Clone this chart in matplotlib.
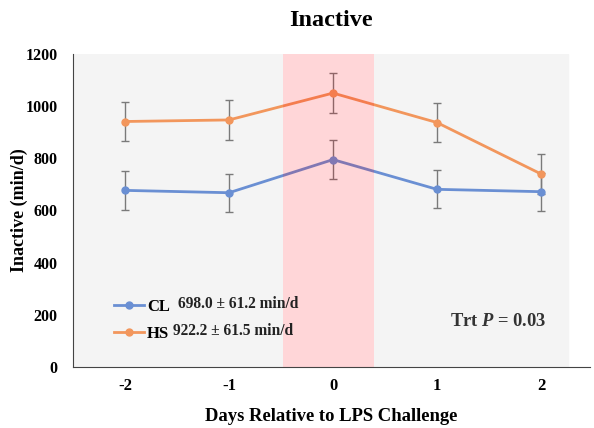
import numpy as np
import matplotlib.pyplot as plt
from matplotlib.patches import Rectangle
from matplotlib.lines import Line2D

plt.rcParams['font.family'] = ['Liberation Serif', 'DejaVu Serif']
plt.rcParams['font.weight'] = 'bold'
plt.rcParams['axes.unicode_minus'] = False
plt.rcParams['mathtext.fontset'] = 'custom'
plt.rcParams['mathtext.it'] = 'Liberation Serif:italic:bold'

days = [-2, -1, 0, 1, 2]
cl = [677, 668, 795, 681, 672]
hs = [941, 947, 1050, 937, 740]
cl_err = [75, 73, 75, 73, 73]
hs_err = [75, 78, 75, 75, 75]

blue = '#6a8fd3'
orange = '#f2965c'

fig = plt.figure(figsize=(5.94, 4.28), dpi=100)
ax = fig.add_axes([0.123, 0.1425, 0.87, 0.7315])

ax.set_xlim(-2.5, 2.47)
ax.set_ylim(0, 1200)

# gray plot area, white under the LPS band
ax.add_patch(Rectangle((-2.5, 0), 4.76, 1200, color='#f4f4f4', zorder=0))
ax.axvspan(-0.48, 0.39, color='white', lw=0, zorder=0.5)

ax.errorbar(days, cl, yerr=cl_err, color=blue, lw=2, marker='o', ms=5,
            ecolor='#7a7a7a', elinewidth=1, capsize=3, zorder=2)
ax.errorbar(days, hs, yerr=hs_err, color=orange, lw=2, marker='o', ms=5,
            ecolor='#7a7a7a', elinewidth=1, capsize=3, zorder=2)

# LPS challenge day
ax.axvspan(-0.48, 0.39, color='#ff0010', alpha=0.16, lw=0, zorder=3)

for s in ['top', 'right']:
    ax.spines[s].set_visible(False)
ax.spines['left'].set_color('#444444')
ax.spines['bottom'].set_color('#444444')
ax.tick_params(axis='y', length=0, labelsize=11.5, pad=11)
ax.tick_params(axis='x', length=0, labelsize=12, pad=8)
ax.set_xticks(days)
ax.set_yticks(range(0, 1201, 200))

ax.set_title('Inactive', fontsize=17.5, fontweight='bold', pad=20)
ax.set_xlabel('Days Relative to LPS Challenge', fontsize=13.4, fontweight='bold', labelpad=10)
ax.set_ylabel('Inactive (min/d)', fontsize=13, fontweight='bold', va='center')
ax.yaxis.set_label_coords(-0.103, 0.5)

handles = [Line2D([], [], color=blue, lw=2, marker='o', ms=5),
           Line2D([], [], color=orange, lw=2, marker='o', ms=5)]
ax.legend(handles, ['CL', 'HS'], loc='lower left', bbox_to_anchor=(0.05, 0.033),
          frameon=False, fontsize=12, handlelength=1.8, handletextpad=0.2,
          labelspacing=0.65)

ax.text(0.203, 0.201, '698.0 ± 61.2 min/d', transform=ax.transAxes,
        fontsize=11.2, fontweight='bold', va='center', color='#222222', zorder=5)
ax.text(0.193, 0.115, '922.2 ± 61.5 min/d', transform=ax.transAxes,
        fontsize=11.2, fontweight='bold', va='center', color='#222222', zorder=5)
ax.text(0.822, 0.144, 'Trt $P$ = 0.03', transform=ax.transAxes,
        fontsize=13.3, fontweight='bold', ha='center', va='center', color='#333333')

fig.savefig('out.png', dpi=100)
